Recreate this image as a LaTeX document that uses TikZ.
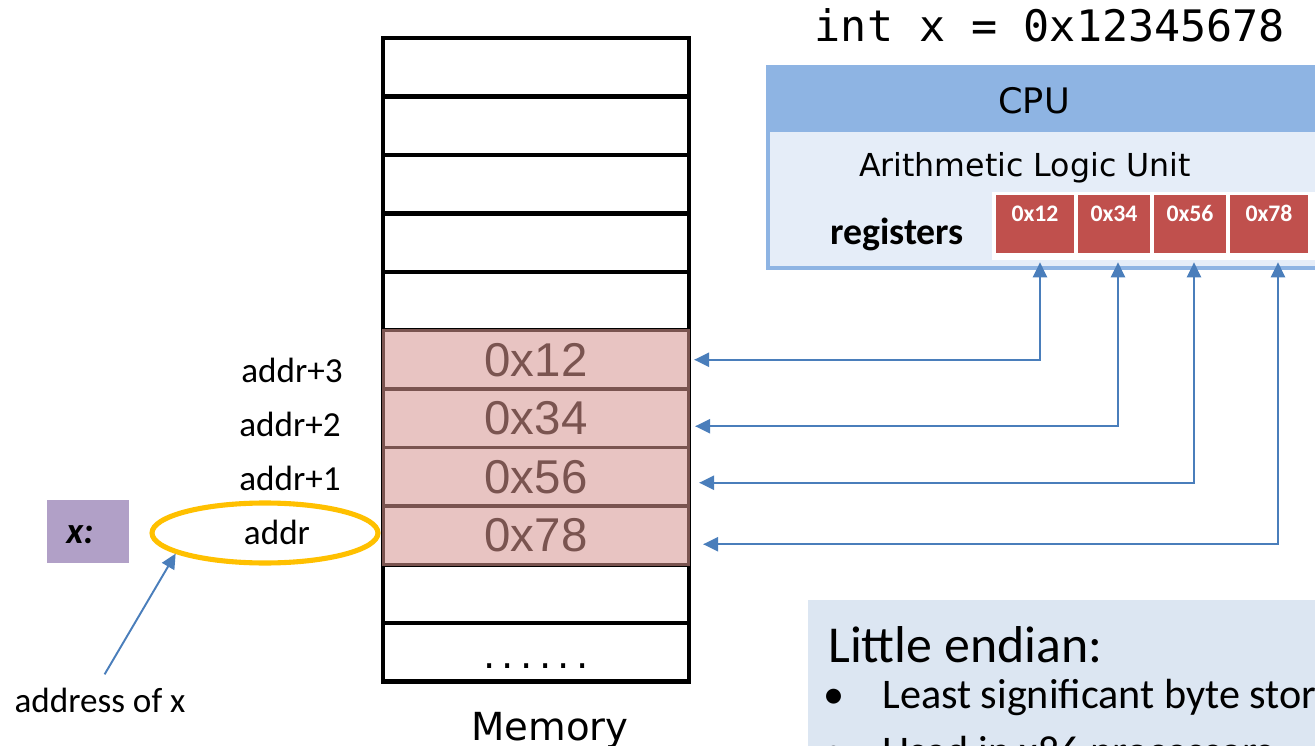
\documentclass[tikz,border=0pt]{standalone}
\usepackage{fontspec}
\setmainfont{Carlito}
\setmonofont{DejaVu Sans Mono}
\newfontfamily\dejavu{DejaVu Sans}
\newfontfamily\arialish{Liberation Sans}
\usetikzlibrary{shapes.geometric,arrows.meta}

\definecolor{cellpink}{HTML}{E8C4C2}
\definecolor{cellbrown}{HTML}{7A5450}
\definecolor{cpuhead}{HTML}{8EB4E3}
\definecolor{cpubody}{HTML}{E5EDF8}
\definecolor{regred}{HTML}{C0504D}
\definecolor{linkblue}{HTML}{4A7EBB}
\definecolor{ringgold}{HTML}{FFC000}
\definecolor{tagpurple}{HTML}{B1A0C7}
\definecolor{notebox}{HTML}{DCE6F2}

\begin{document}
\begin{tikzpicture}[x=0.02cm,y=-0.02cm]
% Frame
\useasboundingbox (0,0) rectangle (1315,746);
\clip (0,0) rectangle (1315,746);

\tikzstyle{txt} = [inner sep=0pt, anchor=base]
\tikzstyle{cell} = [draw, shape=rectangle, minimum height=1.17cm, minimum width=6.12cm, line width=2.6pt, fill=white, inner sep=0pt]
\tikzstyle{byte} = [draw=cellbrown, shape=rectangle, minimum height=1.17cm, minimum width=6.1cm, line width=1.9pt, fill=cellpink, text=cellbrown, font=\arialish\fontsize{27}{30}\selectfont, inner sep=0pt]
\tikzstyle{reg} = [shape=rectangle, minimum width=1.44cm, text height=0.54cm, text depth=0.62cm, fill=regred, text=white, font=\bfseries\fontsize{13.5}{15}\selectfont, inner sep=0pt]
\tikzstyle{link} = [linkblue, line width=1.1pt, {Triangle[length=8.5pt,width=8pt]}-{Triangle[length=8.5pt,width=8pt]}]
\tikzstyle{lbl} = [txt, font=\fontsize{20}{24}\selectfont]

% Memory column
\foreach \i in {0,...,10}
  \node at (536,67.25+58.5*\i) [cell] (m\i) {};
\node at (536,359.75) [byte] (b12) {0x12};
\node at (536,418.25) [byte] (b34) {0x34};
\node at (536,476.75) [byte] (b56) {0x56};
\node at (536,535.25) [byte] (b78) {0x78};
\node at (536,668) [txt, font=\dejavu\fontsize{22}{24}\selectfont] (dots) {.\,.\,.\,.\,.\,.};
\node at (550,740) [txt, font=\dejavu\fontsize{22}{26}\selectfont] (memlbl) {Memory};

% Addresses
\node at (292,383) [lbl] (a3) {addr+3};
\node at (290,437) [lbl] (a2) {addr+2};
\node at (290,490) [lbl] (a1) {addr+1};
\node at (277,544) [lbl] (a0) {addr};
\node at (265,533) [draw=ringgold, line width=2.9pt, shape=ellipse, minimum width=4.52cm, minimum height=1.2cm, inner sep=0pt] (ring) {};
\node at (88,531.5) [fill=tagpurple, minimum width=1.64cm, minimum height=1.26cm, inner sep=0pt] (xtag) {};
\node at (80,543) [lbl, font=\bfseries\itshape\fontsize{21}{24}\selectfont] (xname) {x:};
\node at (100,712) [lbl] (addrof) {address of x};
\draw[linkblue, line width=1.1pt, -{Triangle[length=8.5pt,width=8pt]}, shorten <=0.3cm] ([xshift=-0.06cm]addrof.north) -- (ring.193);

% CPU
\fill[cpuhead] (766,65) rectangle (1330,132);
\draw[cpuhead, line width=2.8pt, fill=cpubody] (768,130) rectangle (1330,268);
\node at (1034,114) [txt, font=\dejavu\fontsize{20}{24}\selectfont] (cpulbl) {CPU};
\node at (1025,177) [txt, font=\dejavu\fontsize{18}{22}\selectfont] (alu) {Arithmetic Logic Unit};
\node at (897,245) [lbl, font=\bfseries\fontsize{21.5}{24}\selectfont] (regs) {registers};
\fill[white] (992,192) rectangle (1330,260);
\node at (1035,224) [reg, minimum width=1.56cm] (r12) {0x12};
\node at (1114,224) [reg] (r34) {0x34};
\node at (1190,224) [reg] (r56) {0x56};
\node at (1269,224) [reg, minimum width=1.56cm] (r78) {0x78};
\node at (1050,42) [txt, font=\ttfamily\fontsize{24.7}{28}\selectfont] (decl) {int x = 0x12345678};

% Byte links
\draw[link, shorten <=0.08cm, shorten >=0.18cm] (b12.east) -| ([xshift=0.1cm]r12.south);
\draw[link, shorten <=0.1cm, shorten >=0.18cm] ([yshift=-0.16cm]b34.east) -| ([xshift=0.08cm]r34.south);
\draw[link, shorten <=0.18cm, shorten >=0.18cm] ([yshift=-0.12cm]b56.east) -| ([xshift=0.08cm]r56.south);
\draw[link, shorten <=0.26cm, shorten >=0.18cm] ([yshift=-0.18cm]b78.east) -| ([xshift=0.18cm]r78.south);

% Note
\fill[notebox] (808,600) rectangle (1330,760);
\node at (828,662) [txt, anchor=base west, font=\fontsize{29.5}{32}\selectfont] (endian) {Little endian:};
\node at (834,708) [txt, font=\fontsize{24}{28}\selectfont] (dot1) {•};
\node at (882,708) [txt, anchor=base west, font=\fontsize{24}{28}\selectfont] (fact1) {Least significant byte stored first};
\node at (834,765) [txt, font=\fontsize{24}{28}\selectfont] (dot2) {•};
\node at (882,765) [txt, anchor=base west, font=\fontsize{24}{28}\selectfont] (fact2) {Used in x86 processors};
\end{tikzpicture}
\end{document}
